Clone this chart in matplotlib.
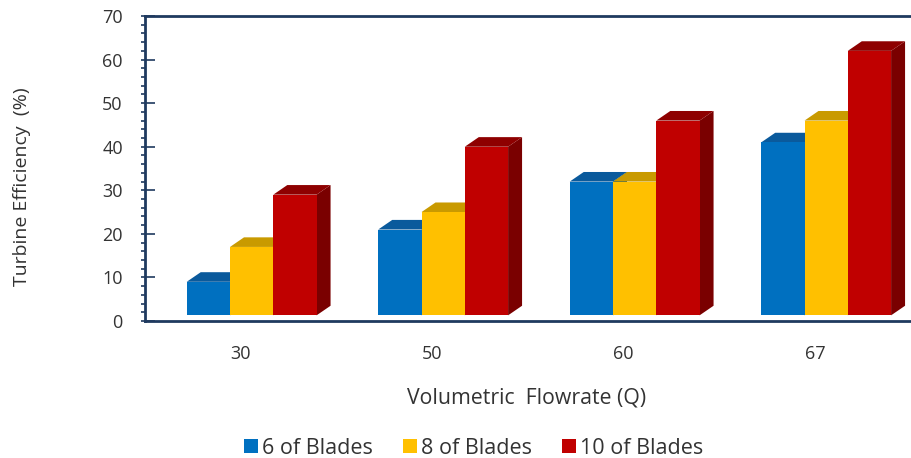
"""
Turbine efficiency vs volumetric flowrate, drawn as pseudo-3D clustered columns.
"""

import matplotlib.pyplot as plt
from matplotlib.patches import Patch
from matplotlib.ticker import MultipleLocator

flowrates = ["30", "50", "60", "67"]
blades_6 = [9, 21, 32, 41]
blades_8 = [17, 25, 32, 46]
blades_10 = [29, 40, 46, 62]
series_names = ["6 of Blades", "8 of Blades", "10 of Blades"]

front_colors = ["#0070C0", "#FFC000", "#C00000"]
top_colors = ["#0A5A9C", "#C99A00", "#8E0000"]
side_colors = ["#00528C", "#B08500", "#7A0000"]

AXIS_COLOR = "#1F3A5F"
TEXT_COLOR = "#333333"

# bar geometry in data units (x: category units, y: percent)
BAR_W = 0.226
GROUP_OFFSET = -0.282
DEPTH_X = 0.073
DEPTH_Y = 2.2
LIFT = 1.3

plt.rcParams["font.family"] = ["Open Sans", "DejaVu Sans"]


def bar3d(ax, x, h, k):
    x0, x1 = x, x + BAR_W
    # right side face
    ax.fill([x1, x1 + DEPTH_X, x1 + DEPTH_X, x1],
            [LIFT, LIFT + DEPTH_Y, h + DEPTH_Y, h],
            color=side_colors[k], lw=0)
    # top face
    ax.fill([x0, x1, x1 + DEPTH_X, x0 + DEPTH_X],
            [h, h, h + DEPTH_Y, h + DEPTH_Y],
            color=top_colors[k], lw=0)
    # front face
    ax.fill([x0, x1, x1, x0], [LIFT, LIFT, h, h],
            color=front_colors[k], lw=0)


fig = plt.figure(figsize=(9.12, 4.58), dpi=100)
# axes run past the right edge of the figure on purpose
ax = fig.add_axes([145 / 912, 137 / 458, 4.2 * 191.5 / 912, 305 / 458])

series = [blades_6, blades_8, blades_10]
for i in range(len(flowrates)):
    for k, vals in enumerate(series):
        bar3d(ax, i + GROUP_OFFSET + k * BAR_W, vals[i], k)

ax.set_xlim(-0.5, 3.7)
ax.set_ylim(0, 70)

ax.set_xticks(range(len(flowrates)))
ax.set_xticklabels(flowrates)
ax.tick_params(axis="x", length=0, pad=17, labelsize=13, labelcolor=TEXT_COLOR)

ax.yaxis.set_major_locator(MultipleLocator(10))
ax.yaxis.set_minor_locator(MultipleLocator(2))
ax.yaxis.remove_overlapping_locs = False
ax.tick_params(axis="y", which="major", direction="in", length=7, width=1.2,
               color=AXIS_COLOR, labelsize=13, labelcolor=TEXT_COLOR, pad=16)
ax.tick_params(axis="y", which="minor", direction="out", length=3, width=1.2,
               color=AXIS_COLOR)

for side in ["left", "bottom", "top"]:
    ax.spines[side].set_color(AXIS_COLOR)
    ax.spines[side].set_linewidth(2)
ax.spines["right"].set_visible(False)

fig.text(22 / 912, 1 - 187 / 458, "Turbine Efficiency  (%)", rotation=90,
         ha="center", va="center", fontsize=14, color=TEXT_COLOR)
fig.text(527 / 912, 1 - 398 / 458, "Volumetric  Flowrate (Q)",
         ha="center", va="center", fontsize=15.3, color=TEXT_COLOR)

handles = [Patch(facecolor=c, edgecolor="none") for c in front_colors]
fig.legend(handles, series_names, loc="center", bbox_to_anchor=(474 / 912, 10 / 458),
           ncol=3, frameon=False, fontsize=15.5, handlelength=0.63, handleheight=0.63,
           handletextpad=0.2, columnspacing=1.4, labelcolor=TEXT_COLOR,
           borderpad=0, borderaxespad=0)

fig.savefig("out.png", dpi=100)
